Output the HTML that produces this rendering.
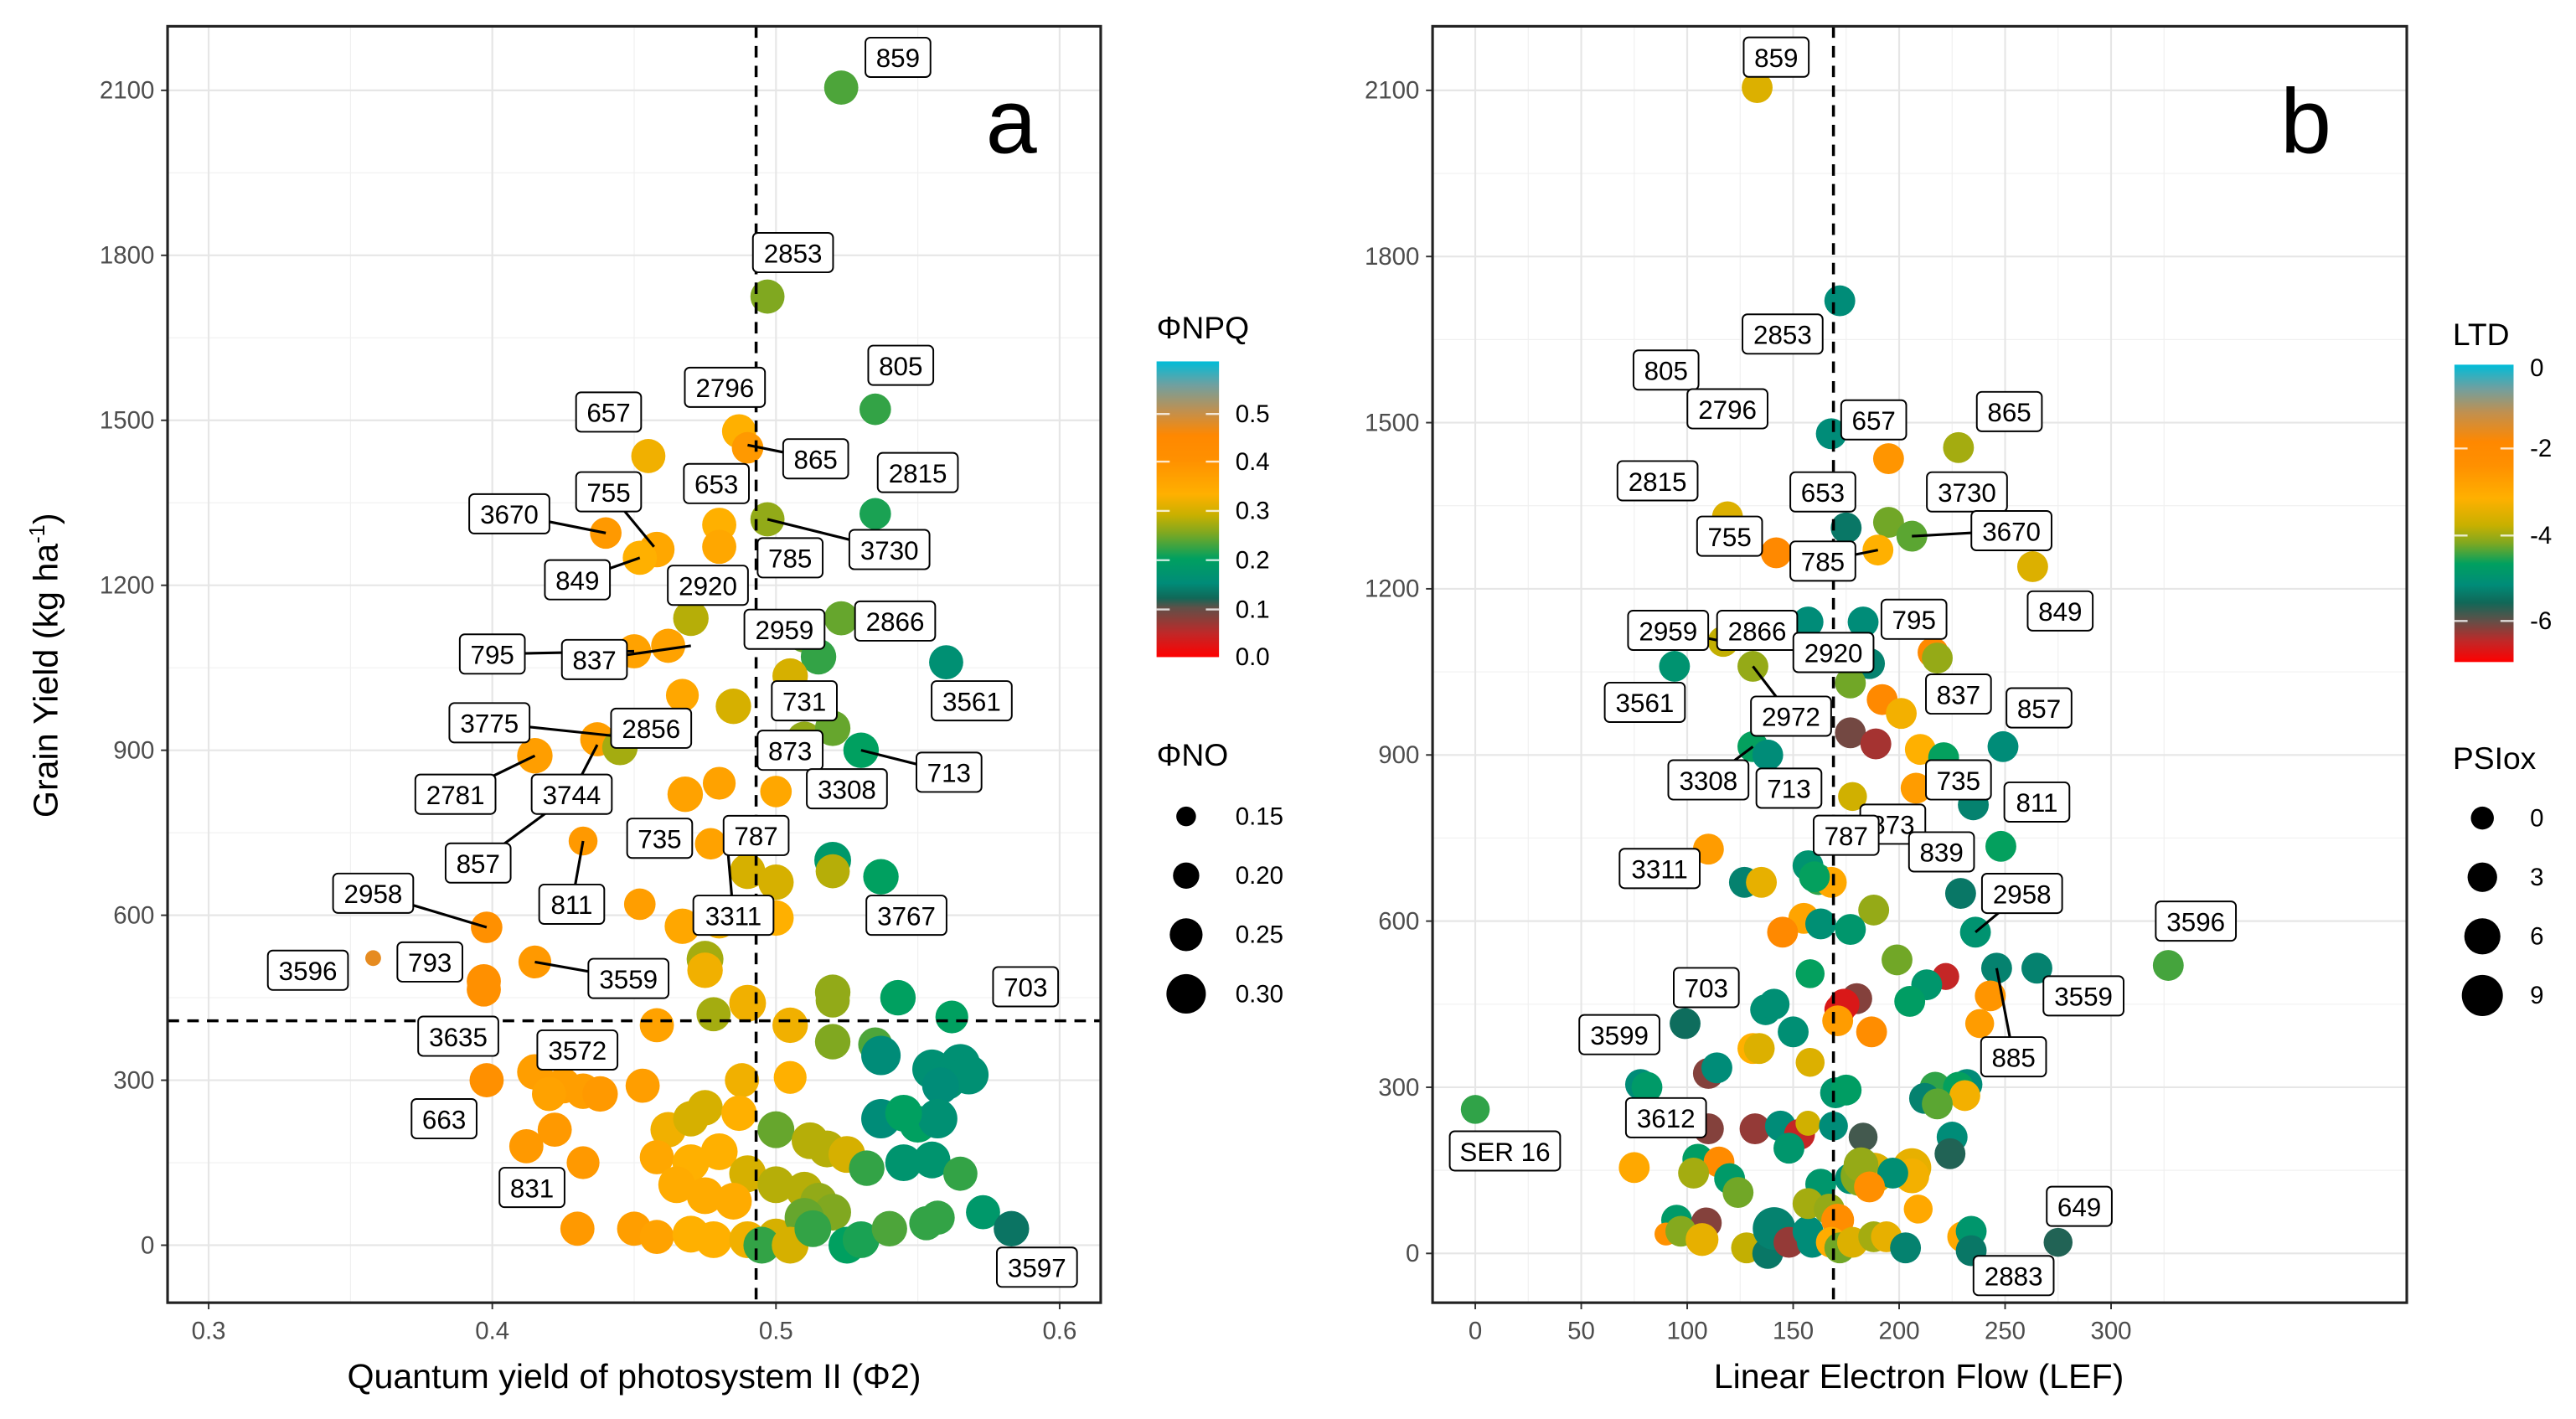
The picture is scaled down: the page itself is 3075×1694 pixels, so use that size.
<!DOCTYPE html>
<html><head><meta charset="utf-8"><style>
html,body{margin:0;padding:0;background:#fff;}
svg{display:block;font-family:"Liberation Sans",sans-serif;}
</style></head><body>
<svg id="fig" width="3075" height="1694" viewBox="0 0 1568 863.8" xmlns="http://www.w3.org/2000/svg">
<defs>
<linearGradient id="gNPQ" x1="0" y1="1" x2="0" y2="0">
<stop offset="0" stop-color="#ff0000"/><stop offset="0.08" stop-color="#c02828"/><stop offset="0.167" stop-color="#605048"/>
<stop offset="0.2" stop-color="#106858"/><stop offset="0.25" stop-color="#008c78"/><stop offset="0.333" stop-color="#00a060"/>
<stop offset="0.42" stop-color="#80a820"/><stop offset="0.48" stop-color="#c8b000"/><stop offset="0.55" stop-color="#ffb000"/>
<stop offset="0.667" stop-color="#ff9000"/><stop offset="0.75" stop-color="#ff8800"/><stop offset="0.833" stop-color="#c09050"/>
<stop offset="0.92" stop-color="#70a0a0"/><stop offset="1" stop-color="#00bcd8"/></linearGradient>
<linearGradient id="gLTD" x1="0" y1="1" x2="0" y2="0">
<stop offset="0" stop-color="#ff0000"/><stop offset="0.07" stop-color="#c02828"/><stop offset="0.14" stop-color="#605048"/>
<stop offset="0.2" stop-color="#106858"/><stop offset="0.26" stop-color="#008c78"/><stop offset="0.33" stop-color="#00a060"/>
<stop offset="0.4" stop-color="#80a820"/><stop offset="0.46" stop-color="#c8b000"/><stop offset="0.55" stop-color="#ffb000"/>
<stop offset="0.66" stop-color="#ff9000"/><stop offset="0.74" stop-color="#ff8800"/><stop offset="0.84" stop-color="#c09050"/>
<stop offset="0.92" stop-color="#70a0a0"/><stop offset="1" stop-color="#00bcd8"/></linearGradient>
</defs>
<g id="root"></g>
</svg>
<script>
// ---------- Panel a data: [phi2, yield, NPQ, NO]
const aPhi2 = [0.523,0.497,0.535,0.487,0.490,0.455,0.535,0.497,0.480,0.440,0.458,0.452,0.480,0.470,0.523,0.510,0.515,0.560,0.505,0.462,0.450,0.467,0.485,0.437,0.445,0.415,0.510,0.520,0.530,0.468,0.480,0.500,0.432,0.477,0.490,0.500,0.520,0.520,0.537,0.452,0.467,0.480,0.500,0.398,0.475,0.475,0.415,0.397,0.397,0.358,0.490,0.478,0.505,0.520,0.520,0.543,0.562,0.458,0.520,0.535,0.537,0.555,0.560,0.565,0.568,0.558,0.415,0.425,0.432,0.438,0.420,0.398,0.453,0.488,0.505,0.537,0.550,0.557,0.545,0.500,0.512,0.518,0.525,0.462,0.470,0.475,0.487,0.422,0.412,0.432,0.458,0.470,0.480,0.490,0.532,0.545,0.555,0.565,0.465,0.475,0.485,0.500,0.510,0.515,0.520,0.430,0.450,0.458,0.470,0.478,0.490,0.500,0.495,0.510,0.525,0.530,0.540,0.553,0.557,0.573,0.583,0.505,0.513];
const aYield = [2105,1725,1520,1480,1450,1435,1330,1320,1310,1295,1265,1250,1270,1140,1140,1110,1070,1060,1035,1090,1080,1000,980,920,905,890,920,940,900,820,840,825,735,730,680,660,700,680,670,620,580,590,595,578,520,500,515,480,465,522,440,420,400,460,445,450,415,400,370,365,345,320,300,330,310,290,315,290,280,275,275,300,290,300,305,230,220,230,240,210,190,175,165,210,230,250,240,210,180,150,160,150,170,130,140,150,155,130,110,90,80,110,100,80,60,30,30,15,20,10,10,15,0,50,0,10,30,40,50,60,30,0,30];
const aNPQ = [0.23,0.25,0.22,0.33,0.38,0.32,0.21,0.26,0.33,0.38,0.35,0.33,0.35,0.28,0.24,0.24,0.22,0.16,0.30,0.36,0.36,0.35,0.30,0.37,0.27,0.37,0.26,0.24,0.20,0.36,0.36,0.35,0.38,0.36,0.30,0.30,0.18,0.28,0.20,0.37,0.35,0.32,0.33,0.40,0.27,0.32,0.38,0.40,0.40,0.47,0.32,0.27,0.32,0.26,0.26,0.20,0.20,0.36,0.25,0.23,0.15,0.16,0.16,0.16,0.16,0.15,0.37,0.37,0.37,0.38,0.36,0.40,0.37,0.32,0.33,0.15,0.20,0.16,0.20,0.24,0.28,0.28,0.30,0.32,0.30,0.30,0.33,0.38,0.38,0.38,0.35,0.33,0.33,0.30,0.22,0.17,0.17,0.22,0.34,0.34,0.34,0.28,0.28,0.26,0.25,0.38,0.37,0.36,0.33,0.33,0.32,0.30,0.22,0.24,0.20,0.21,0.23,0.22,0.22,0.18,0.13,0.30,0.22];
const aNO = [0.26,0.26,0.24,0.26,0.24,0.26,0.24,0.26,0.26,0.24,0.27,0.26,0.26,0.27,0.26,0.27,0.27,0.26,0.27,0.26,0.26,0.25,0.27,0.26,0.27,0.27,0.27,0.27,0.27,0.27,0.25,0.24,0.22,0.24,0.27,0.27,0.28,0.26,0.27,0.24,0.27,0.27,0.27,0.24,0.28,0.27,0.25,0.26,0.26,0.12,0.28,0.26,0.27,0.27,0.26,0.27,0.25,0.26,0.27,0.26,0.30,0.30,0.30,0.30,0.30,0.28,0.27,0.27,0.27,0.27,0.26,0.26,0.26,0.26,0.25,0.30,0.28,0.30,0.28,0.28,0.28,0.28,0.28,0.27,0.27,0.27,0.27,0.26,0.26,0.25,0.26,0.28,0.28,0.28,0.27,0.28,0.28,0.26,0.28,0.28,0.28,0.28,0.28,0.28,0.28,0.26,0.26,0.26,0.28,0.28,0.28,0.28,0.28,0.30,0.28,0.28,0.27,0.26,0.26,0.26,0.27,0.28,0.28];
const aXTicks = [0.3,0.4,0.5,0.6];
const aYTicks = [0,300,600,900,1200,1500,1800,2100];
const aXCut = [0.493];
const aYCut = [408];
// labels: [text, phi2, yield, lineFromPhi2, lineFromYield]
const aLabels = [["859",0.543,2160],["2853",0.506,1805],["805",0.544,1600],["2796",0.482,1560],["865",0.514,1430,0.490,1455],["657",0.441,1515],["2815",0.550,1405],["653",0.479,1385],["755",0.441,1370,0.457,1270],["3670",0.406,1330,0.440,1295],["3730",0.540,1265,0.497,1320],["785",0.505,1250],["849",0.430,1210,0.452,1250],["2920",0.476,1200],["2959",0.503,1120],["2866",0.542,1135],["795",0.400,1075,0.450,1080],["837",0.436,1065,0.470,1090],["731",0.510,990],["3561",0.569,990],["3775",0.399,950,0.445,925],["2856",0.456,940,0.447,910],["873",0.505,900],["713",0.561,860,0.530,900],["2781",0.387,820,0.415,890],["3744",0.428,820,0.437,910],["3308",0.525,830],["857",0.395,695,0.420,790],["735",0.459,740],["787",0.493,745],["811",0.428,620,0.432,735],["3311",0.485,600,0.483,720],["3767",0.546,600],["2958",0.358,640,0.398,578],["3596",0.335,500],["793",0.378,515],["3559",0.448,485,0.415,515],["703",0.588,470],["3635",0.388,380],["3572",0.430,355],["663",0.383,230],["831",0.414,105],["3597",0.592,-40]];

// ---------- Panel b data: [LEF, yield, LTD, PSIox]
const bLEF = [133,172,118,168,195,228,119,175,195,206,190,142,263,157,183,117,94,131,186,177,216,218,192,201,177,189,131,138,210,221,249,208,178,235,248,110,157,162,168,160,127,135,229,236,188,155,163,145,177,199,246,265,327,158,222,213,205,180,174,172,243,137,141,171,187,238,99,150,131,134,158,110,114,78,81,170,175,217,232,228,231,212,218,0,110,132,144,153,157,169,183,225,224,148,105,115,75,103,120,124,163,177,182,188,182,206,206,197,186,209,95,109,90,97,107,128,138,141,148,157,159,157,167,171,168,172,178,188,194,203,230,234,234,275];
const bYield = [2105,1720,1520,1480,1435,1455,1330,1310,1320,1295,1270,1265,1240,1140,1140,1105,1060,1060,1065,1030,1085,1075,1000,975,940,920,915,900,910,895,915,840,825,810,735,730,700,675,670,680,670,670,650,580,620,605,595,580,585,530,515,515,520,505,500,485,455,460,450,440,465,440,450,420,400,415,415,400,370,370,345,325,335,305,300,290,295,300,305,300,285,280,270,260,225,225,230,215,235,230,210,210,180,190,170,165,155,145,135,110,125,135,140,145,160,155,140,145,120,80,60,55,35,40,25,10,0,45,20,40,20,90,80,60,20,10,20,30,30,10,30,40,5,20];
const bLTD = [-3.8,-5.6,-3.0,-5.6,-2.8,-4.2,-3.8,-5.8,-4.5,-4.6,-3.5,-2.2,-3.8,-5.6,-5.6,-4.0,-5.4,-4.3,-5.7,-4.5,-2.2,-4.3,-2.2,-3.6,-6.3,-6.6,-5.0,-5.6,-3.5,-5.0,-5.6,-3.0,-3.9,-5.7,-5.0,-3.0,-5.4,-4.8,-3.3,-5.0,-5.7,-3.7,-5.8,-5.4,-4.3,-3.2,-5.5,-2.2,-5.3,-4.5,-5.7,-5.7,-4.7,-5.0,-6.8,-5.3,-5.1,-6.4,-7.0,-7.0,-2.8,-5.5,-5.5,-3.0,-2.5,-3.0,-5.9,-5.5,-3.5,-3.8,-3.8,-6.4,-5.6,-5.6,-5.2,-5.3,-5.1,-4.8,-5.6,-5.0,-3.6,-5.7,-4.6,-4.8,-6.4,-6.5,-5.6,-6.8,-3.9,-5.6,-6.1,-5.6,-6.0,-5.3,-5.1,-2.3,-3.3,-4.2,-5.2,-4.5,-5.3,-5.5,-4.4,-3.8,-4.3,-3.7,-3.6,-5.5,-2.6,-3.3,-5.2,-6.4,-2.7,-4.4,-3.7,-4.0,-5.8,-5.7,-6.5,-5.6,-5.6,-4.2,-4.3,-2.5,-3.4,-4.5,-3.8,-4.2,-3.7,-5.7,-3.3,-5.3,-5.8,-6.0];
const bPSI = [4,4,4,4,4,4,4,4,4,4,4,4,4,4,4,4,4,4,4,4,4,4,4,4,4,4,4,4,4,4,4,4,3,4,4,4,4,4,4,4,4,4,4,4,4,4,4,4,4,4,4,4,4,3,2,4,4,4,4,4,4,4,4,4,4,3,4,4,4,4,3,4,4,4,4,4,4,4,4,4,4,4,4,3,4,4,4,4,1,3,3,4,4,4,4,4,4,4,4,4,4,4,9,9,6,8,6,4,4,3,4,4,0,4,5,4,4,10,4,4,4,4,4,5,4,4,4,4,4,4,4,4,4,3];
const bXTicks = [0,50,100,150,200,250,300];
const bYTicks = [0,300,600,900,1200,1500,1800,2100];
const bXCut = [169];
const bLabels = [["859",142,2160],["2853",145,1660],["805",90,1595],["2796",119,1525],["657",188,1505],["865",252,1520],["2815",86,1395],["653",164,1375],["3730",232,1375],["3670",253,1305,206,1295],["755",120,1295],["785",164,1250,190,1270],["849",276,1160],["2959",91,1125,117,1105],["2866",133,1125],["795",207,1145],["2920",169,1085],["3561",80,995],["837",228,1010],["857",266,985],["2972",149,970,131,1060],["735",228,855],["3308",110,855,131,915],["713",148,840],["811",265,815],["873",197,775],["787",175,755],["839",220,725],["3311",87,695],["2958",258,650,236,580],["3596",340,600],["3559",287,465],["703",109,480],["885",254,355,246,515],["3599",68,395],["3612",90,245],["SER 16",14,185],["649",285,85],["2883",254,-40]];

// ---------- Layout
const A = {x0:127, x1:645, vx0:0.3, vx1:0.6, y0:758, y1:55, vy0:0, vy1:2100, L:102, R:670, T:16, B:793};
const B = {x0:898, x1:1285, vx0:0, vx1:300, y0:763, y1:55, vy0:0, vy1:2100, L:872, R:1465, T:16, B:793};
function sx(P,v){return P.x0+(v-P.vx0)*(P.x1-P.x0)/(P.vx1-P.vx0);}
function sy(P,v){return P.y0+(v-P.vy0)*(P.y1-P.y0)/(P.vy1-P.vy0);}

const NS="http://www.w3.org/2000/svg";
const root=document.getElementById('root');
function mk(tag,attrs,parent){const e=document.createElementNS(NS,tag);for(const k in attrs)e.setAttribute(k,attrs[k]);(parent||root).appendChild(e);return e;}

const npqStops=[[0,[255,0,0]],[0.05,[192,40,40]],[0.1,[96,80,72]],[0.12,[16,104,88]],[0.15,[0,140,120]],[0.2,[0,160,96]],[0.25,[128,168,32]],[0.29,[200,176,0]],[0.33,[255,176,0]],[0.4,[255,144,0]],[0.45,[255,136,0]],[0.5,[192,144,80]],[0.55,[112,160,160]],[0.6,[0,188,216]]];
function npqColor(v){if(v<=0)return 'rgb(255,0,0)';for(let i=1;i<npqStops.length;i++){if(v<=npqStops[i][0]){const a=npqStops[i-1],b=npqStops[i];const t=(v-a[0])/(b[0]-a[0]);return 'rgb('+a[1].map((c,j)=>Math.round(c+(b[1][j]-c)*t)).join(',')+')';}}return 'rgb(0,188,216)';}
function ltdColor(v){return npqColor((v+7)/7*0.6+0.03);}

function panel(P,name,xt,yt,xfmt){
  const g=mk('g',{});
  
  
  for(let i=0;i<xt.length-1;i++){const m=(xt[i]+xt[i+1])/2;const x=sx(P,m);const l=mk('line',{x1:x,x2:x,y1:P.T,y2:P.B,stroke:'#f0f0f0','stroke-width':0.6},g);}
  { const x=sx(P,xt[0]-(xt[1]-xt[0])/2); if(x>P.L) mk('line',{x1:x,x2:x,y1:P.T,y2:P.B,stroke:'#f0f0f0','stroke-width':0.6},g);
    const x2=sx(P,xt[xt.length-1]+(xt[1]-xt[0])/2); if(x2<P.R) mk('line',{x1:x2,x2:x2,y1:P.T,y2:P.B,stroke:'#f0f0f0','stroke-width':0.6},g);}
  for(let i=0;i<yt.length-1;i++){const m=(yt[i]+yt[i+1])/2;const y=sy(P,m);const l=mk('line',{x1:P.L,x2:P.R,y1:y,y2:y,stroke:'#f0f0f0','stroke-width':0.6},g);}
  xt.forEach(v=>{const x=sx(P,v);
    const l=mk('line',{x1:x,x2:x,y1:P.T,y2:P.B,stroke:'#e6e6e6','stroke-width':1.1},g);
    
    
    mk('line',{x1:x,x2:x,y1:P.B,y2:P.B+4,stroke:'#333','stroke-width':1},g);
    const t=mk('text',{x:x,y:P.B+22,'text-anchor':'middle','font-size':15,fill:'#4d4d4d'},g);t.textContent=xfmt(v);
    
    });
  yt.forEach(v=>{const y=sy(P,v);
    const l=mk('line',{x1:P.L,x2:P.R,y1:y,y2:y,stroke:'#e6e6e6','stroke-width':1.1},g);
    
    
    mk('line',{x1:P.L-4,x2:P.L,y1:y,y2:y,stroke:'#333','stroke-width':1},g);
    const t=mk('text',{x:P.L-8,y:y+5,'text-anchor':'end','font-size':15,fill:'#4d4d4d'},g);t.textContent=String(v);
    
    });
  return g;
}
function labels(P,g,arr){
  arr.forEach(l=>{
    const cx=sx(P,l[1]),cy=sy(P,l[2]);
    if(l.length>3){const ln=mk('line',{x1:cx,y1:cy,x2:sx(P,l[3]),y2:sy(P,l[4]),stroke:'#000','stroke-width':1.6},g);
      
      }
  });
  arr.forEach(l=>{
    const cx=sx(P,l[1]),cy=sy(P,l[2]);
    const w=l[0].length*9.2+12;
    const r=mk('rect',{x:cx-w/2,y:cy-12,width:w,height:24,rx:3,fill:'#fff',stroke:'#000','stroke-width':1},g);
    
    
    const t=mk('text',{x:cx,y:cy+6,'text-anchor':'middle','font-size':16,fill:'#000'},g);t.textContent=l[0];
    
    
  });
}

const ga=panel(A,'a',aXTicks,aYTicks,v=>v.toFixed(1));
aPhi2.forEach((v,i)=>{const c=mk('circle',{cx:sx(A,v),cy:sy(A,aYield[i]),r:aNO[i]*40,fill:npqColor(aNPQ[i])},ga);
  
  });
aXCut.forEach(v=>{const l=mk('line',{x1:sx(A,v),x2:sx(A,v),y1:A.T,y2:A.B,stroke:'#000','stroke-width':1.8,'stroke-dasharray':'7,5'},ga);
  
  });
aYCut.forEach(v=>{const l=mk('line',{x1:A.L,x2:A.R,y1:sy(A,v),y2:sy(A,v),stroke:'#000','stroke-width':1.8,'stroke-dasharray':'7,5'},ga);
  
  });
labels(A,ga,aLabels);
const gb=panel(B,'b',bXTicks,bYTicks,v=>String(v));
bLEF.forEach((v,i)=>{const c=mk('circle',{cx:sx(B,v),cy:sy(B,bYield[i]),r:7+bPSI[i]*0.6,fill:ltdColor(bLTD[i])},gb);
  
  });
bXCut.forEach(v=>{const l=mk('line',{x1:sx(B,v),x2:sx(B,v),y1:B.T,y2:B.B,stroke:'#000','stroke-width':1.8,'stroke-dasharray':'7,5'},gb);
  
  });
labels(B,gb,bLabels);
</script>
<svg style="position:absolute;left:0;top:0" width="3075" height="1694" viewBox="0 0 1568 863.8" xmlns="http://www.w3.org/2000/svg" font-family="Liberation Sans, sans-serif">
<rect x="102" y="16" width="568" height="777" fill="none" stroke="#222" stroke-width="1.6"/>
<rect x="872" y="16" width="593" height="777" fill="none" stroke="#222" stroke-width="1.6"/>
<text x="600" y="93" font-size="56" fill="#000">a</text>
<text x="1388" y="93" font-size="56" fill="#000">b</text>
<text x="386" y="845" text-anchor="middle" font-size="21" fill="#000">Quantum yield of photosystem II (Φ2)</text>
<text x="1168" y="845" text-anchor="middle" font-size="21" fill="#000">Linear Electron Flow (LEF)</text>
<text transform="translate(35,405) rotate(-90)" text-anchor="middle" font-size="21" fill="#000">Grain Yield  (kg ha<tspan dy="-8" font-size="13">-1</tspan><tspan dy="8">)</tspan></text>
<g>
<text x="704" y="206" font-size="19" fill="#000">ΦNPQ</text>
<rect x="704" y="220" width="38" height="180" fill="url(#gNPQ)"/>
<g stroke="#fff" stroke-width="1.2" opacity="0.8"><line x1="704" x2="712" y1="252" y2="252"/><line x1="734" x2="742" y1="252" y2="252"/><line x1="704" x2="712" y1="281" y2="281"/><line x1="734" x2="742" y1="281" y2="281"/><line x1="704" x2="712" y1="311" y2="311"/><line x1="734" x2="742" y1="311" y2="311"/><line x1="704" x2="712" y1="341" y2="341"/><line x1="734" x2="742" y1="341" y2="341"/><line x1="704" x2="712" y1="371" y2="371"/><line x1="734" x2="742" y1="371" y2="371"/></g>
<g font-size="15" fill="#000"><text x="752" y="257">0.5</text><text x="752" y="286">0.4</text><text x="752" y="316">0.3</text><text x="752" y="346">0.2</text><text x="752" y="376">0.1</text><text x="752" y="405">0.0</text></g>
</g>
<g>
<text x="704" y="466" font-size="19" fill="#000">ΦNO</text>
<circle cx="722" cy="497" r="6"/><circle cx="722" cy="533" r="8"/><circle cx="722" cy="569" r="10"/><circle cx="722" cy="605" r="12"/>
<g font-size="15" fill="#000"><text x="752" y="502">0.15</text><text x="752" y="538">0.20</text><text x="752" y="574">0.25</text><text x="752" y="610">0.30</text></g>
</g>
<g>
<text x="1493" y="210" font-size="19" fill="#000">LTD</text>
<rect x="1494" y="222" width="36" height="181" fill="url(#gLTD)"/>
<g stroke="#fff" stroke-width="1.2" opacity="0.8"><line x1="1494" x2="1502" y1="273" y2="273"/><line x1="1522" x2="1530" y1="273" y2="273"/><line x1="1494" x2="1502" y1="326" y2="326"/><line x1="1522" x2="1530" y1="326" y2="326"/><line x1="1494" x2="1502" y1="378" y2="378"/><line x1="1522" x2="1530" y1="378" y2="378"/></g>
<g font-size="15" fill="#000"><text x="1540" y="229">0</text><text x="1540" y="278">-2</text><text x="1540" y="331">-4</text><text x="1540" y="383">-6</text></g>
</g>
<g>
<text x="1493" y="468" font-size="19" fill="#000">PSIox</text>
<circle cx="1511" cy="498" r="7"/><circle cx="1511" cy="534" r="9"/><circle cx="1511" cy="570" r="11"/><circle cx="1511" cy="606" r="12.5"/>
<g font-size="15" fill="#000"><text x="1540" y="503">0</text><text x="1540" y="539">3</text><text x="1540" y="575">6</text><text x="1540" y="611">9</text></g>
</g>
</svg>
</body></html>
